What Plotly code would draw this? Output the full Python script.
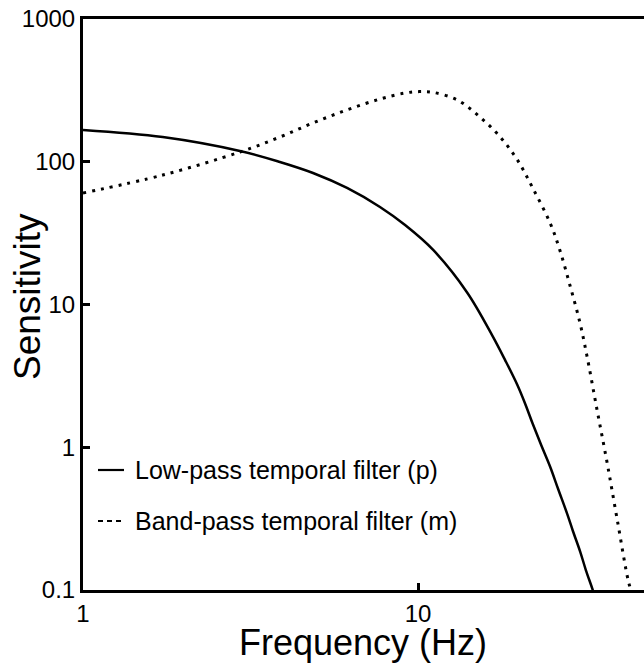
import plotly.graph_objects as go

# Data
lp_freq = [1.0, 1.73, 2.94, 3.87, 4.86, 6.14, 7.7, 9.15, 11.1, 14.0, 16.7, 18.2, 19.8, 20.9, 22.0, 23.3,
           24.8, 26.2, 27.9, 29.0, 30.5, 31.7, 33.1, 33.8]
lp_sens = [167, 149, 119, 99.6, 83.4, 65.5, 48.2, 36.0, 24.1, 12.2, 6.01, 4.08, 2.73, 2.01, 1.46, 1.04,
           0.73, 0.51, 0.340, 0.259, 0.185, 0.138, 0.103, 0.088]

bp_freq = [1.0, 1.73, 2.94, 3.87, 4.86, 6.14, 7.7, 9.15, 10.1, 11.1, 13.1, 15.3, 17.6, 19.8, 22.0, 24.8,
           26.5, 28.4, 30.4, 31.9, 34.2, 36.7, 39.3, 42.4, 43.5]
bp_sens = [60.4, 80.7, 117, 149, 187, 231, 275, 303, 310, 306, 271, 206, 149, 103, 65.5, 37.2,
           24.1, 13.7, 7.54, 4.43, 1.85, 0.776, 0.314, 0.117, 0.095]

x_ticks = [1, 10]
x_ticktext = ["1", "10"]
y_ticks = [0.1, 1, 10, 100, 1000]
y_ticktext = ["0.1", "1", "10", "100", "1000"]

legend_labels = ["Low-pass temporal filter (p)", "Band-pass temporal filter (m)"]
x_title = "Frequency (Hz)"
y_title = "Sensitivity"

FONT = "Liberation Sans, Arial, Helvetica, sans-serif"

fig = go.Figure()
fig.add_trace(go.Scatter(x=lp_freq, y=lp_sens, mode="lines", line=dict(color="black", width=2.5),
                         line_shape="spline", showlegend=False, name=legend_labels[0]))
fig.add_trace(go.Scatter(x=bp_freq, y=bp_sens, mode="lines", line=dict(color="black", width=3, dash="3px,6px"),
                         line_shape="spline", showlegend=False, name=legend_labels[1]))

L, T, B = 83, 19, 74
W, H = 644, 664
pw, ph = W - L, H - T - B

def px(x):
    return (x - L) / pw

def py(y):
    return (H - B - y) / ph

rows = [470, 521]
dashes = ["solid", "5px,4px"]
for lab, ry, d in zip(legend_labels, rows, dashes):
    fig.add_shape(type="line", xref="paper", yref="paper", x0=px(98), x1=px(124), y0=py(ry), y1=py(ry),
                  line=dict(color="black", width=2.2, dash=d))
    fig.add_annotation(xref="paper", yref="paper", x=px(133), y=py(ry), text=lab, showarrow=False,
                       xanchor="left", yanchor="middle", font=dict(size=25, color="black", family=FONT))

fig.add_annotation(xref="paper", yref="paper", x=px(363), y=py(643), text=x_title, showarrow=False,
                   xanchor="center", yanchor="middle", font=dict(size=36, color="black", family=FONT))
fig.add_annotation(xref="paper", yref="paper", x=px(27), y=py(297), text=y_title, showarrow=False,
                   textangle=-90, xanchor="center", yanchor="middle",
                   font=dict(size=37, color="black", family=FONT))

fig.update_layout(
    width=W, height=H,
    margin=dict(l=L, r=0, t=T, b=B, autoexpand=False),
    paper_bgcolor="white", plot_bgcolor="white",
    font=dict(family=FONT, color="black"),
    showlegend=False,
)
fig.update_xaxes(type="log", range=[0, pw / 335.0], tickvals=x_ticks, ticktext=x_ticktext, automargin=False,
                 showgrid=False, zeroline=False, showline=True, linecolor="black", linewidth=3, mirror=True,
                 ticks="inside", ticklen=7, tickwidth=3, tickcolor="black",
                 tickfont=dict(size=24, family=FONT))
fig.update_yaxes(type="log", range=[-1, 3], tickvals=y_ticks, ticktext=y_ticktext, automargin=False,
                 showgrid=False, zeroline=False, showline=True, linecolor="black", linewidth=3, mirror=False,
                 ticks="inside", ticklen=7, tickwidth=3, tickcolor="black",
                 tickfont=dict(size=24, family=FONT))

fig.write_html("out.html")
